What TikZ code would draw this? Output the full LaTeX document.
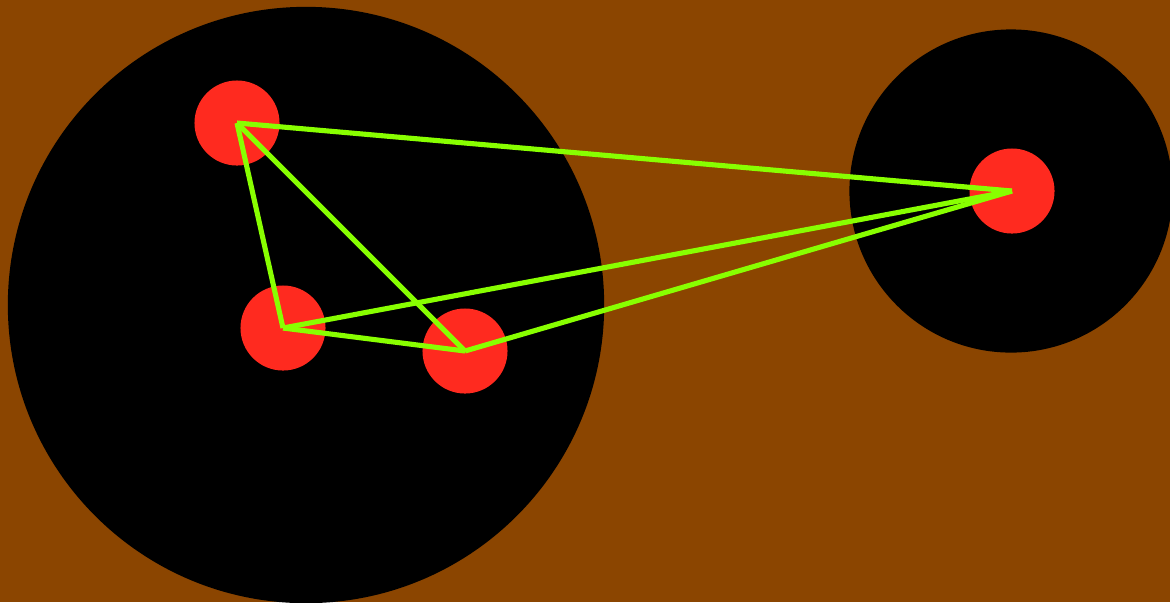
\documentclass[tikz,border=0pt]{standalone}
\usetikzlibrary{positioning}
\definecolor{fundo}{HTML}{8B4500}
\definecolor{ponto}{HTML}{FF2A1F}
\definecolor{aresta}{HTML}{88FF00}
\tikzset{
  regiao/.style={fill=black, draw=none},
  vertice/.style={circle, fill=ponto, draw=none, inner sep=0pt, minimum size=0.85cm},
  ligacao/.style={aresta, line width=1.45pt, line join=miter},
}
\begin{document}
\begin{tikzpicture}[x=0.01cm, y=-0.01cm]

  % ---------------- fundo ----------------
  \fill[fundo] (0,0) rectangle (1170,602);
  \useasboundingbox (0,0) rectangle (1170,602);

  % ---------------- regioes ----------------
  \fill[regiao] (306,305) circle (2.98cm);
  \fill[regiao] (1011,191) circle (1.615cm);

  % ---------------- vertices ----------------
  \node[vertice] (A) at (237,123) {};
  \node[vertice] (B) at (283,328) {};
  \node[vertice] (C) at (465,351) {};
  \node[vertice] (D) at (1012,191) {};

  % ---------------- ligacoes ----------------
  \foreach \u/\v in {A/B,A/C,A/D,B/C,B/D,C/D} {
    \draw[ligacao] (\u.center) -- (\v.center);
  }
\end{tikzpicture}
\end{document}
